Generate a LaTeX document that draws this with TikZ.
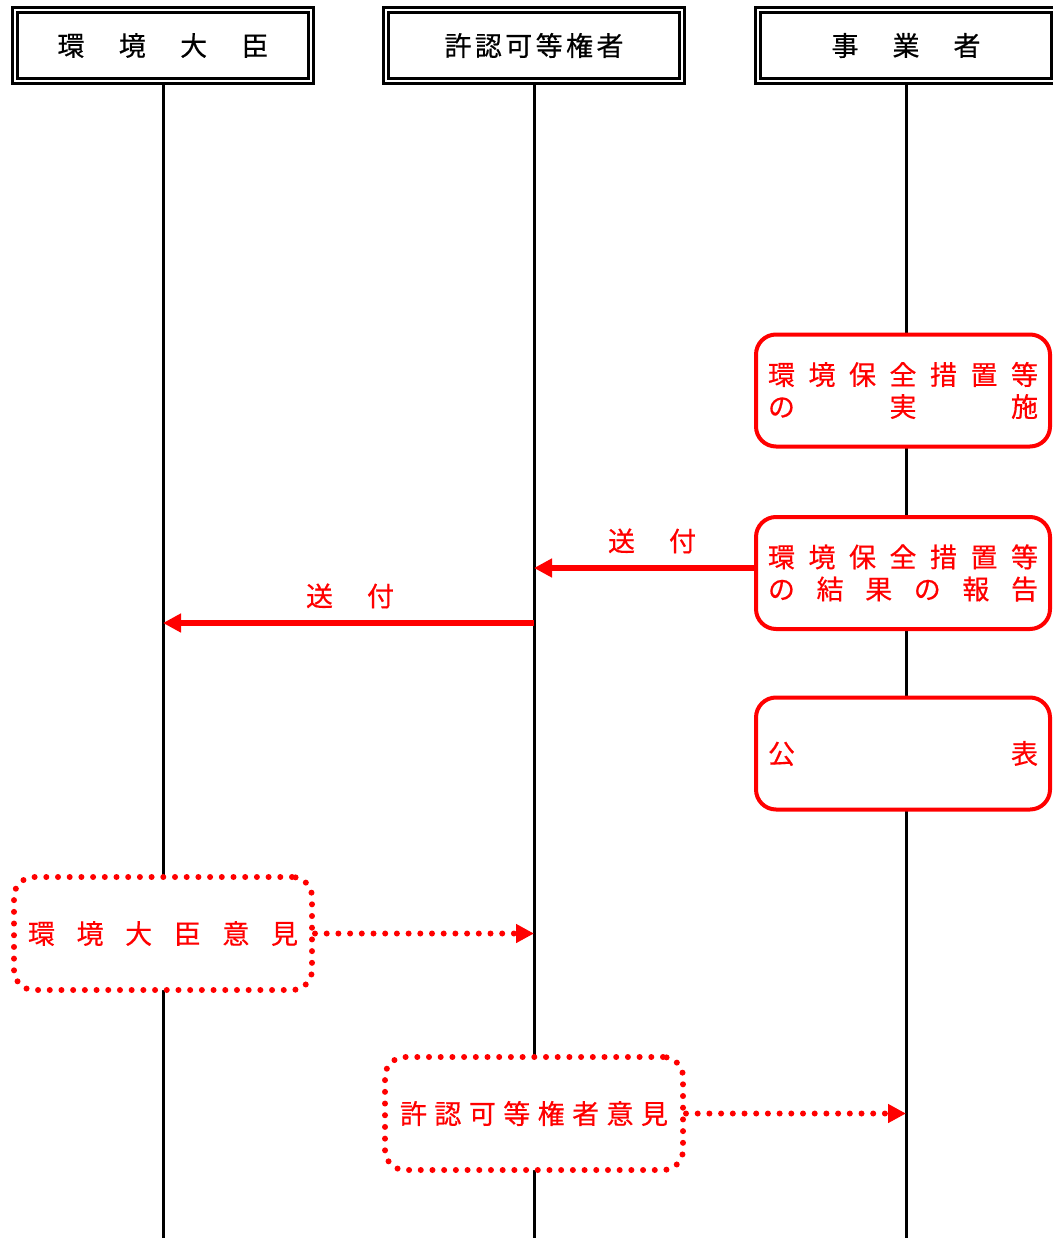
\documentclass[tikz,border=0pt]{standalone}
\usepackage{fontspec}
\setmainfont{Noto Sans CJK JP}[UprightFeatures={FakeBold=0.5}]
\usetikzlibrary{arrows.meta}

\definecolor{rd}{RGB}{255,0,0}

\begin{document}
\begin{tikzpicture}[x=1pt,y=-1pt,font=\fontsize{27}{32}\selectfont]
\tikzstyle{head}=[rectangle,draw,line width=3pt,double,double distance=2pt,minimum width=296pt,minimum height=71pt,inner sep=0pt,fill=white]
\tikzstyle{act}=[rectangle,rounded corners=20pt,draw=rd,line width=4pt,minimum width=294pt,minimum height=112pt,inner sep=0pt,fill=white,text=rd,align=center]
\tikzstyle{opin}=[rectangle,rounded corners=20pt,draw=rd,line width=6pt,line cap=round,dash pattern=on 0pt off 11.7pt,minimum width=298pt,minimum height=113pt,inner sep=0pt,fill=white,text=rd]
\tikzstyle{life}=[line width=3pt]
\tikzstyle{send}=[draw=rd,line width=6pt,-{Triangle[length=18pt,width=18pt]}]
\tikzstyle{hand}=[draw=rd,line width=6pt,line cap=round,dash pattern=on 0pt off 11.7pt,-{Triangle[length=18pt,width=18pt]}]
\useasboundingbox (0,0) rectangle (1052,1238);

% headers and lifelines
\node[head] (hA) at (163,45.5) {\makebox[211pt]{環\hfill{}境\hfill{}大\hfill{}臣}};
\node[head] (hB) at (534,45.5) {\makebox[179pt]{許\hfill{}認\hfill{}可\hfill{}等\hfill{}権\hfill{}者}};
\node[head] (hC) at (906,45.5) {\makebox[149pt]{事\hfill{}業\hfill{}者}};
\coordinate (endA) at (hA.south |- 0,1238);
\coordinate (endB) at (hB.south |- 0,1238);
\coordinate (endC) at (hC.south |- 0,1238);
\draw[life] (hA.south) -- (endA);
\draw[life] (hB.south) -- (endB);
\draw[life] (hC.south) -- (endC);

% business operator
\node[act] (act1) at (903,390.5) {\makebox[270pt]{環\hfill{}境\hfill{}保\hfill{}全\hfill{}措\hfill{}置\hfill{}等}\\\makebox[270pt]{の\hfill{}実\hfill{}施}};
\node[act] (act2) at (903,573) {\makebox[270pt]{環\hfill{}境\hfill{}保\hfill{}全\hfill{}措\hfill{}置\hfill{}等}\\\makebox[270pt]{の\hfill{}結\hfill{}果\hfill{}の\hfill{}報\hfill{}告}};
\node[act] (act3) at (903,753.5) {\makebox[270pt]{公\hfill{}表}};

% sending
\coordinate (s1) at ([yshift=5pt]act2.west);
\draw[send] (s1) -- (s1 -| endB);
\node[text=rd] (lab1) at (652,541) {\makebox[88pt]{送\hfill{}付}};
\coordinate (s2) at (endB |- 0,623);
\draw[send] (s2) -- (s2 -| endA);
\node[text=rd] (lab2) at (350,596) {\makebox[88pt]{送\hfill{}付}};

% opinions
\node[opin] (op1) at (163,933.5) {\makebox[270pt]{環\hfill{}境\hfill{}大\hfill{}臣\hfill{}意\hfill{}見}};
\draw[hand] (op1.east) -- (op1.east -| endB);
\node[opin] (op2) at (534,1113.5) {\makebox[268pt]{許\hfill{}認\hfill{}可\hfill{}等\hfill{}権\hfill{}者\hfill{}意\hfill{}見}};
\draw[hand] (op2.east) -- (op2.east -| endC);

\end{tikzpicture}
\end{document}
